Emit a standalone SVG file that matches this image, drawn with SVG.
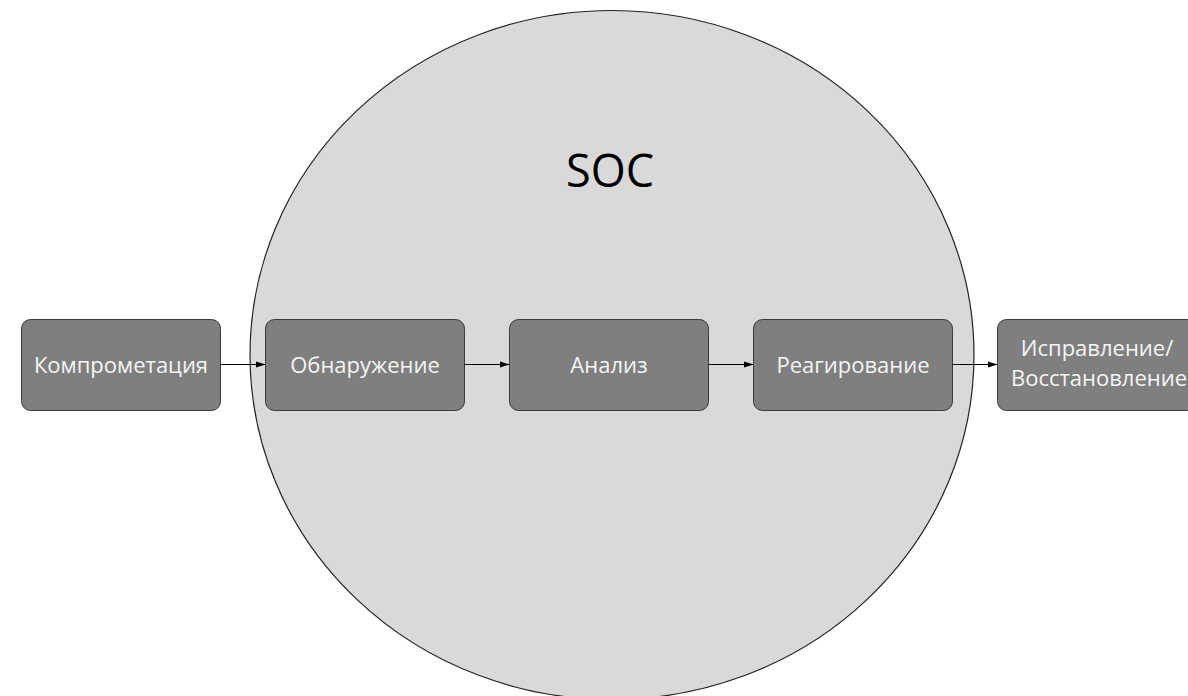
<svg xmlns="http://www.w3.org/2000/svg" width="1188" height="696" viewBox="0 0 1188 696">
<style>
.box{fill:#7f7f7f;stroke:#3a3a3a;stroke-width:1}
.lbl{font-family:"Open Sans","Noto Sans",sans-serif;font-size:22px;fill:#f5f5f5;text-anchor:middle}
.conn{stroke:#000;stroke-width:1;fill:none;marker-end:url(#ah)}
</style>
<defs>
<marker id="ah" markerWidth="10" markerHeight="8" refX="10" refY="4" orient="auto" markerUnits="userSpaceOnUse">
<path d="M0,0.8 L10,4 L0,7.2 Z" fill="#000"/>
</marker>
</defs>
<rect width="1188" height="696" fill="#fff"/>
<g id="soc">
<ellipse cx="612" cy="355" rx="362" ry="344.5" fill="#d9d9d9" stroke="#222" stroke-width="1.2"/>
<text x="610" y="187" font-family="'Open Sans','Noto Sans',sans-serif" font-size="45" fill="#000" text-anchor="middle">SOC</text>
</g>
<g id="connectors">
<line class="conn" x1="220.5" y1="364.5" x2="265.5" y2="364.5"/>
<line class="conn" x1="464.5" y1="364.5" x2="509.5" y2="364.5"/>
<line class="conn" x1="708.5" y1="364.5" x2="753.5" y2="364.5"/>
<line class="conn" x1="952.5" y1="364.5" x2="997.5" y2="364.5"/>
</g>
<g id="n1">
<rect class="box" x="21.5" y="319.5" width="199" height="91" rx="9"/>
<text class="lbl" x="121" y="372.5">Компрометация</text>
</g>
<g id="n2">
<rect class="box" x="265.5" y="319.5" width="199" height="91" rx="9"/>
<text class="lbl" x="365" y="372.5">Обнаружение</text>
</g>
<g id="n3">
<rect class="box" x="509.5" y="319.5" width="199" height="91" rx="9"/>
<text class="lbl" x="609" y="372.5">Анализ</text>
</g>
<g id="n4">
<rect class="box" x="753.5" y="319.5" width="199" height="91" rx="9"/>
<text class="lbl" x="853" y="372.5">Реагирование</text>
</g>
<g id="n5">
<rect class="box" x="997.5" y="319.5" width="199" height="91" rx="9"/>
<text class="lbl" x="1097" y="356">Исправление/</text>
<text class="lbl" x="1099" y="386">Восстановление</text>
</g>
</svg>
